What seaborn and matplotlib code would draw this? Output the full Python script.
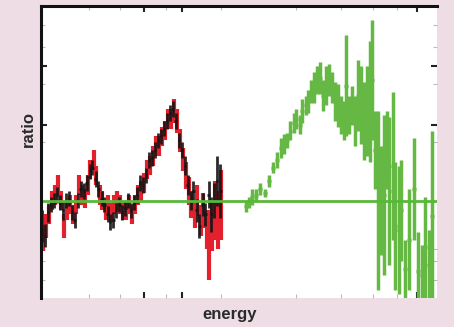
import matplotlib
matplotlib.use("Agg")
import matplotlib.pyplot as plt
import seaborn as sns

# black data set
black_energy = [0.03, 0.10, 0.18, 0.25, 0.33, 0.40, 0.48, 0.55, 0.63, 0.70, 0.78, 0.85, 0.93, 1.00,
                1.08, 1.15, 1.23, 1.30, 1.38, 1.45, 1.53, 1.60, 1.68, 1.75, 1.83, 1.90, 1.98, 2.05,
                2.13, 2.20, 2.28, 2.35, 2.43, 2.50, 2.58, 2.65, 2.73, 2.80, 2.88, 2.95, 3.03, 3.10,
                3.18, 3.25, 3.33, 3.40, 3.48, 3.55, 3.63, 3.70, 3.78, 3.85, 3.93, 4.00, 4.08, 4.15,
                4.23, 4.30, 4.38, 4.45, 4.53]
black_ratio = [0.87, 0.82, 0.94, 0.98, 1.00, 1.03, 0.99, 0.95, 1.00, 1.01, 0.94, 0.90, 1.00, 1.06,
               1.05, 1.09, 1.15, 1.17, 1.11, 1.06, 1.01, 0.98, 0.93, 0.89, 0.90, 0.95, 0.98, 0.94,
               0.96, 1.00, 0.95, 0.99, 1.03, 1.09, 1.08, 1.13, 1.21, 1.22, 1.26, 1.31, 1.33, 1.37,
               1.41, 1.45, 1.47, 1.41, 1.31, 1.26, 1.18, 1.08, 1.00, 1.05, 0.95, 0.87, 0.98, 0.93,
               1.03, 0.93, 1.00, 1.10, 1.05]
black_err = [0.08, 0.06, 0.05, 0.04, 0.04, 0.04, 0.04, 0.05, 0.04, 0.04, 0.04, 0.04, 0.04, 0.04,
             0.04, 0.04, 0.04, 0.04, 0.04, 0.04, 0.04, 0.04, 0.04, 0.04, 0.04, 0.04, 0.04, 0.04,
             0.04, 0.04, 0.04, 0.04, 0.04, 0.04, 0.04, 0.04, 0.04, 0.04, 0.04, 0.04, 0.04, 0.04,
             0.04, 0.04, 0.04, 0.04, 0.04, 0.04, 0.05, 0.05, 0.05, 0.05, 0.06, 0.06, 0.06, 0.06,
             0.07, 0.09, 0.09, 0.13, 0.14]

# red data set
red_energy = [0.05, 0.13, 0.20, 0.28, 0.35, 0.43, 0.50, 0.58, 0.65, 0.73, 0.80, 0.88, 0.95, 1.03,
              1.10, 1.18, 1.25, 1.33, 1.40, 1.48, 1.55, 1.63, 1.70, 1.78, 1.85, 1.93, 2.00, 2.08,
              2.15, 2.23, 2.30, 2.38, 2.45, 2.53, 2.60, 2.68, 2.75, 2.83, 2.90, 2.98, 3.05, 3.13,
              3.20, 3.28, 3.35, 3.43, 3.50, 3.58, 3.65, 3.73, 3.80, 3.88, 3.95, 4.03, 4.10, 4.18,
              4.25, 4.33, 4.40, 4.48, 4.55]
red_ratio = [0.80, 0.87, 0.93, 1.00, 1.03, 1.08, 1.00, 0.87, 0.95, 0.98, 0.93, 0.98, 1.08, 1.03,
             1.01, 1.08, 1.16, 1.21, 1.13, 1.03, 1.00, 0.95, 0.98, 0.94, 0.98, 1.00, 0.98, 0.95,
             0.95, 0.98, 0.93, 0.98, 1.03, 1.05, 1.09, 1.16, 1.18, 1.23, 1.28, 1.28, 1.33, 1.36,
             1.42, 1.42, 1.46, 1.41, 1.31, 1.21, 1.13, 1.05, 0.98, 0.93, 1.00, 0.90, 0.95, 0.85,
             0.77, 0.87, 0.95, 0.90, 0.98]
red_err = [0.06, 0.06, 0.05, 0.05, 0.05, 0.05, 0.05, 0.06, 0.05, 0.05, 0.05, 0.05, 0.05, 0.05,
           0.05, 0.05, 0.05, 0.05, 0.05, 0.05, 0.05, 0.05, 0.05, 0.05, 0.05, 0.05, 0.05, 0.05,
           0.05, 0.05, 0.05, 0.05, 0.05, 0.05, 0.05, 0.05, 0.05, 0.05, 0.05, 0.05, 0.05, 0.05,
           0.05, 0.05, 0.06, 0.06, 0.06, 0.06, 0.07, 0.07, 0.07, 0.07, 0.08, 0.08, 0.09, 0.10,
           0.18, 0.13, 0.15, 0.15, 0.18]

# green data set
green_energy = [5.18, 5.25, 5.33, 5.43, 5.53, 5.65, 5.75, 5.85, 5.95, 6.05, 6.13, 6.20, 6.30, 6.38,
                6.45, 6.53, 6.60, 6.68, 6.75, 6.83, 6.90, 6.98, 7.05, 7.13, 7.20, 7.28, 7.35, 7.43,
                7.50, 7.58, 7.65, 7.70, 7.78, 7.85, 7.93, 8.00, 8.08, 8.15, 8.23, 8.30, 8.35, 8.43,
                8.50, 8.58, 8.65, 8.73, 8.80, 8.88, 8.95, 9.03, 9.10, 9.20, 9.30, 9.43, 9.53, 9.63,
                9.70, 9.80, 9.88]
green_ratio = [0.97, 0.99, 1.02, 1.03, 1.06, 1.04, 1.10, 1.17, 1.21, 1.27, 1.29, 1.31, 1.36, 1.40,
               1.42, 1.39, 1.46, 1.49, 1.51, 1.56, 1.58, 1.62, 1.63, 1.54, 1.59, 1.62, 1.58, 1.51,
               1.49, 1.44, 1.41, 1.59, 1.44, 1.49, 1.41, 1.54, 1.49, 1.41, 1.46, 1.51, 1.62, 1.26,
               1.00, 1.00, 1.03, 1.26, 1.05, 1.18, 0.87, 0.85, 0.95, 0.65, 0.80, 1.06, 0.64, 0.62,
               0.76, 0.67, 0.92]
green_err = [0.03, 0.03, 0.04, 0.03, 0.03, 0.02, 0.03, 0.03, 0.04, 0.05, 0.05, 0.04, 0.05, 0.05,
             0.05, 0.05, 0.06, 0.05, 0.06, 0.06, 0.08, 0.07, 0.08, 0.08, 0.10, 0.08, 0.08, 0.10,
             0.11, 0.10, 0.10, 0.26, 0.10, 0.10, 0.13, 0.18, 0.20, 0.20, 0.23, 0.31, 0.31, 0.20,
             0.46, 0.28, 0.41, 0.20, 0.38, 0.38, 0.33, 0.33, 0.26, 0.15, 0.26, 0.26, 0.20, 0.15,
             0.26, 0.18, 0.44]

x_major = [2.60, 3.55, 9.50]
x_minor = [1.20, 2.00, 3.15, 4.55, 6.43, 7.58, 8.38, 8.98]
y_major = [1.39, 1.69]
y_minor = [0.59, 0.69, 0.75, 1.30, 1.60, 1.79, 1.90]

sns.set_style("white")
plt.rcParams['font.family'] = ['Liberation Sans', 'DejaVu Sans']

fig = plt.figure(figsize=(4.54, 3.27), dpi=100)
fig.patch.set_facecolor('#efdde5')
ax = fig.add_axes([0.0903, 0.0887, 0.8723, 0.893])
ax.set_facecolor('white')

ax.errorbar(red_energy, red_ratio, yerr=red_err, xerr=0.04, fmt='none',
            ecolor='#e3202b', elinewidth=3.0)
ax.errorbar(black_energy, black_ratio, yerr=black_err, xerr=0.03, fmt='none',
            ecolor='#141414', elinewidth=2.0, alpha=0.9)
ax.errorbar(green_energy, green_ratio, yerr=green_err, xerr=0.05, fmt='none',
            ecolor='#64b843', elinewidth=2.5)
ax.axhline(1.0, color='#58b83a', lw=2)

ax.set_xlim(0, 10)
ax.set_ylim(0.5, 2.0)

ax.set_xticks(x_major)
ax.set_xticks(x_minor, minor=True)
ax.set_yticks(y_major)
ax.set_yticks(y_minor, minor=True)
ax.tick_params(which='both', direction='in', top=True, bottom=True, left=True, right=True,
               labelbottom=False, labelleft=False)
ax.tick_params(which='major', length=4, width=1.5, color='#222222')
ax.tick_params(which='minor', length=3, width=0.8, color='#bbbbbb')

for side in ['left', 'top']:
    ax.spines[side].set_color('#111111')
    ax.spines[side].set_linewidth(2.2)
for side in ['right', 'bottom']:
    ax.spines[side].set_visible(False)

ax.set_xlabel('energy', fontsize=12, fontweight='bold', color='#2a2a2a', va='center')
ax.set_ylabel('ratio', fontsize=12, fontweight='bold', color='#2a2a2a', va='center', ha='center')
ax.xaxis.set_label_coords(0.477, -0.058)
ax.yaxis.set_label_coords(-0.033, 0.58)

fig.savefig('out.png', dpi=100, facecolor=fig.get_facecolor())
plt.close(fig)
